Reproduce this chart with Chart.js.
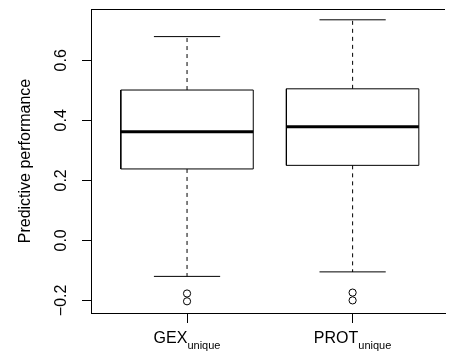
<!DOCTYPE html>
<html>
<head>
  <title>Predictive performance boxplot</title>
  <script src="https://cdn.jsdelivr.net/npm/chart.js"></script>
  <style>
    body { margin: 0; background: #fff; }
  </style>
</head>
<body>
  <div style="width: 450px; height: 352px;">
    <canvas id="boxChart" width="450" height="352"></canvas>
  </div>

  <script>
    // box summaries
    const groups = ['GEX', 'PROT'];
    const groupSub = ['unique', 'unique'];
    const whiskerLow = [-0.120, -0.105];
    const q1 = [0.238, 0.250];
    const median = [0.362, 0.379];
    const q3 = [0.501, 0.505];
    const whiskerHigh = [0.679, 0.735];
    const outliers = [[-0.177, -0.203], [-0.174, -0.200]];
    const yTicks = [-0.2, 0.0, 0.2, 0.4, 0.6];
    const yTitle = 'Predictive performance';

    const FONT = '"Liberation Sans", Arial, sans-serif';
    const boxHalf = 0.4;
    const capHalf = 0.2;

    function line(points, extra) {
      return Object.assign({
        data: points,
        showLine: true,
        borderColor: '#000',
        borderWidth: 1,
        pointRadius: 0,
        fill: false,
      }, extra || {});
    }

    const datasets = [];
    groups.forEach((g, i) => {
      const x = i + 1;
      // whiskers (dashed)
      datasets.push(line([{ x: x, y: q3[i] }, { x: x, y: whiskerHigh[i] }], { borderDash: [4, 4] }));
      datasets.push(line([{ x: x, y: q1[i] }, { x: x, y: whiskerLow[i] }], { borderDash: [4, 4] }));
      // caps
      datasets.push(line([{ x: x - capHalf, y: whiskerHigh[i] }, { x: x + capHalf, y: whiskerHigh[i] }]));
      datasets.push(line([{ x: x - capHalf, y: whiskerLow[i] }, { x: x + capHalf, y: whiskerLow[i] }]));
      // box
      datasets.push(line([
        { x: x - boxHalf, y: q1[i] }, { x: x + boxHalf, y: q1[i] },
        { x: x + boxHalf, y: q3[i] }, { x: x - boxHalf, y: q3[i] },
        { x: x - boxHalf, y: q1[i] }
      ]));
      // median
      datasets.push(line([{ x: x - boxHalf, y: median[i] }, { x: x + boxHalf, y: median[i] }], { borderWidth: 3 }));
      // outliers
      datasets.push({
        data: outliers[i].map(v => ({ x: x, y: v })),
        showLine: false,
        pointStyle: 'circle',
        pointRadius: 3.6,
        pointBorderWidth: 1,
        pointBorderColor: '#000',
        pointBackgroundColor: 'rgba(0,0,0,0)',
      });
    });

    const rStyle = {
      id: 'rStyle',
      afterDraw(chart) {
        const ctx = chart.ctx;
        const area = chart.chartArea;
        const xs = chart.scales.x;
        const ys = chart.scales.y;
        ctx.save();
        ctx.strokeStyle = '#000';
        ctx.lineWidth = 1;
        // top of the frame
        ctx.beginPath();
        ctx.moveTo(area.left, Math.round(area.top) + 0.5);
        ctx.lineTo(area.right, Math.round(area.top) + 0.5);
        ctx.stroke();

        ctx.fillStyle = '#000';
        // y tick labels, rotated like R
        ctx.font = '16px ' + FONT;
        ctx.textAlign = 'center';
        ctx.textBaseline = 'middle';
        yTicks.forEach(v => {
          ctx.save();
          ctx.translate(62, ys.getPixelForValue(v));
          ctx.rotate(-Math.PI / 2);
          ctx.fillText(v.toFixed(1).replace('-', '\u2212'), 0, 0);
          ctx.restore();
        });
        // y title
        ctx.save();
        ctx.translate(26, (area.top + area.bottom) / 2);
        ctx.rotate(-Math.PI / 2);
        ctx.fillText(yTitle, 0, 0);
        ctx.restore();

        // x labels with subscript
        ctx.textAlign = 'left';
        ctx.textBaseline = 'alphabetic';
        groups.forEach((g, i) => {
          const px = xs.getPixelForValue(i + 1);
          ctx.font = '16px ' + FONT;
          const w1 = ctx.measureText(g).width;
          ctx.font = '11px ' + FONT;
          const w2 = ctx.measureText(groupSub[i]).width;
          const start = px - (w1 + w2) / 2;
          ctx.font = '16px ' + FONT;
          ctx.fillText(g, start, 343);
          ctx.font = '11px ' + FONT;
          ctx.fillText(groupSub[i], start + w1, 349);
        });
        ctx.restore();
      }
    };

    new Chart(document.getElementById('boxChart').getContext('2d'), {
      type: 'scatter',
      data: { datasets: datasets },
      options: {
        responsive: false,
        animation: false,
        layout: { padding: { top: 9, right: 0, left: 0, bottom: 0 } },
        plugins: {
          legend: { display: false },
          tooltip: { enabled: false },
        },
        scales: {
          x: {
            type: 'linear',
            min: 0.42,
            max: 2.558,
            afterBuildTicks: s => { s.ticks = groups.map((g, i) => ({ value: i + 1 })); },
            afterFit: s => { s.height = 39; },
            ticks: { display: false },
            grid: { drawOnChartArea: false, drawTicks: true, tickLength: 10, color: '#000', lineWidth: 1 },
            border: { display: true, color: '#000', width: 1 },
          },
          y: {
            type: 'linear',
            min: -0.242,
            max: 0.771,
            afterBuildTicks: s => { s.ticks = yTicks.map(v => ({ value: v })); },
            afterFit: s => { s.width = 91; },
            ticks: { display: false },
            grid: { drawOnChartArea: false, drawTicks: true, tickLength: 9, color: '#000', lineWidth: 1 },
            border: { display: true, color: '#000', width: 1 },
          },
        },
      },
      plugins: [rStyle],
    });
  </script>
</body>
</html>
